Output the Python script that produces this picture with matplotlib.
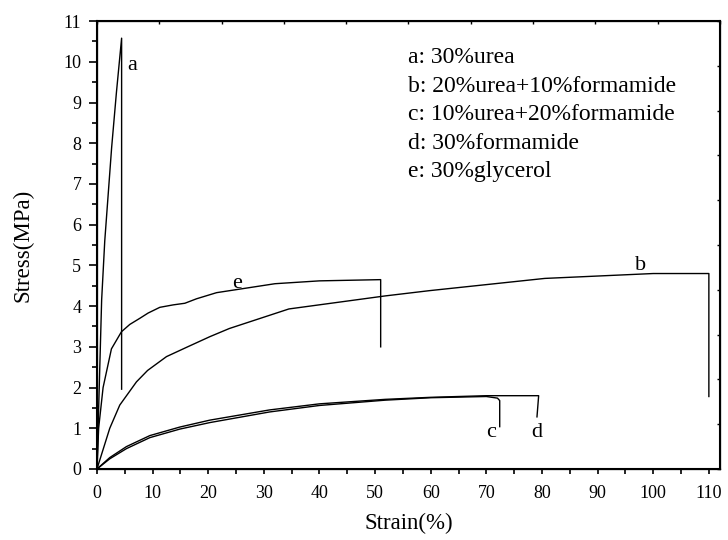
import matplotlib
matplotlib.use("Agg")
import matplotlib.pyplot as plt
from matplotlib.ticker import MultipleLocator

plt.rcParams['font.family'] = ['Liberation Serif', 'DejaVu Serif']

# stress-strain curves (strain %, stress MPa)
a_x = [0, 0.84, 1.4, 2.64, 3.5, 4.43, 4.43]
a_y = [0, 4.15, 5.6, 7.9, 9.25, 10.58, 1.96]

b_x = [0, 2.3, 4.1, 7.1, 9.1, 12.5, 16.3, 20.3, 23.8, 34.5, 51.8, 59.8, 80.5, 100, 110, 110]
b_y = [0, 1.0, 1.57, 2.14, 2.42, 2.76, 3.0, 3.25, 3.45, 3.93, 4.25, 4.38, 4.68, 4.8, 4.8, 1.78]

c_x = [0, 2.3, 5.3, 9.5, 14.9, 20.3, 31, 40, 51.8, 60, 70, 72.0, 72.4, 72.4]
c_y = [0, 0.25, 0.5, 0.77, 0.98, 1.14, 1.4, 1.56, 1.69, 1.75, 1.78, 1.74, 1.68, 1.04]

d_x = [0, 2.3, 5.3, 9.5, 14.9, 20.3, 31, 40, 51.8, 60, 70, 79.4, 79.1]
d_y = [0, 0.28, 0.55, 0.82, 1.03, 1.2, 1.45, 1.6, 1.71, 1.76, 1.8, 1.8, 1.28]

e_x = [0, 0.3, 1.1, 2.6, 4.4, 5.9, 7.7, 9.2, 11.3, 13.7, 15.8, 17.9, 21.5, 32, 40, 51, 51]
e_y = [0, 1.0, 2.0, 2.95, 3.37, 3.55, 3.7, 3.83, 3.97, 4.03, 4.07, 4.18, 4.33, 4.55, 4.62, 4.65, 3.0]

legend_lines = ["a: 30%urea",
                "b: 20%urea+10%formamide",
                "c: 10%urea+20%formamide",
                "d: 30%formamide",
                "e: 30%glycerol"]

fig = plt.figure(figsize=(7.28, 5.4), dpi=100)
ax = fig.add_axes([0.1332, 0.1315, 0.8558, 0.8295])

for xs, ys in [(a_x, a_y), (b_x, b_y), (c_x, c_y), (d_x, d_y), (e_x, e_y)]:
    ax.plot(xs, ys, color='black', lw=1.0)

# curve letters
ax.text(6.3, 9.92, "a", fontsize=16, ha='center', va='center')
ax.text(25.2, 4.55, "e", fontsize=16, ha='center', va='center')
ax.text(97.8, 5.0, "b", fontsize=16, ha='center', va='center')
ax.text(70.8, 0.9, "c", fontsize=16, ha='center', va='center')
ax.text(79.1, 0.9, "d", fontsize=16, ha='center', va='center')

# legend as plain text
for i, s in enumerate(legend_lines):
    ax.text(0.499, 0.9056 - i * 0.0636, s, fontsize=17, ha='left', va='baseline',
            transform=ax.transAxes)

ax.set_xlim(0, 112)
ax.set_ylim(0, 11)
ax.xaxis.set_major_locator(MultipleLocator(10))
ax.xaxis.set_minor_locator(MultipleLocator(5))
ax.yaxis.set_major_locator(MultipleLocator(1))
ax.yaxis.set_minor_locator(MultipleLocator(0.5))
ax.tick_params(which='both', direction='out', width=1.2, labelsize=13)
ax.tick_params(axis='x', which='both', length=3.3, pad=8)
ax.tick_params(axis='y', which='major', length=5.8, pad=5.5)
ax.tick_params(axis='y', which='minor', length=3.6)
for sp in ax.spines.values():
    sp.set_linewidth(1.5)

ax.set_xlabel("Strain(%)", fontsize=16.5)
ax.set_ylabel("Stress(MPa)", fontsize=16.5)
ax.xaxis.set_label_coords(0.5, -0.098)
ax.yaxis.set_label_coords(-0.102, 0.5)

# little inward ticks on top and right
top = ax.twiny()
top.set_xlim(0, 10)
top.xaxis.set_major_locator(MultipleLocator(1))
top.tick_params(direction='in', length=2, width=1, labeltop=False)
right = ax.twinx()
right.set_ylim(0, 10)
right.yaxis.set_major_locator(MultipleLocator(1))
right.tick_params(direction='in', length=2, width=1, labelright=False)

fig.savefig("out.png", dpi=100)
